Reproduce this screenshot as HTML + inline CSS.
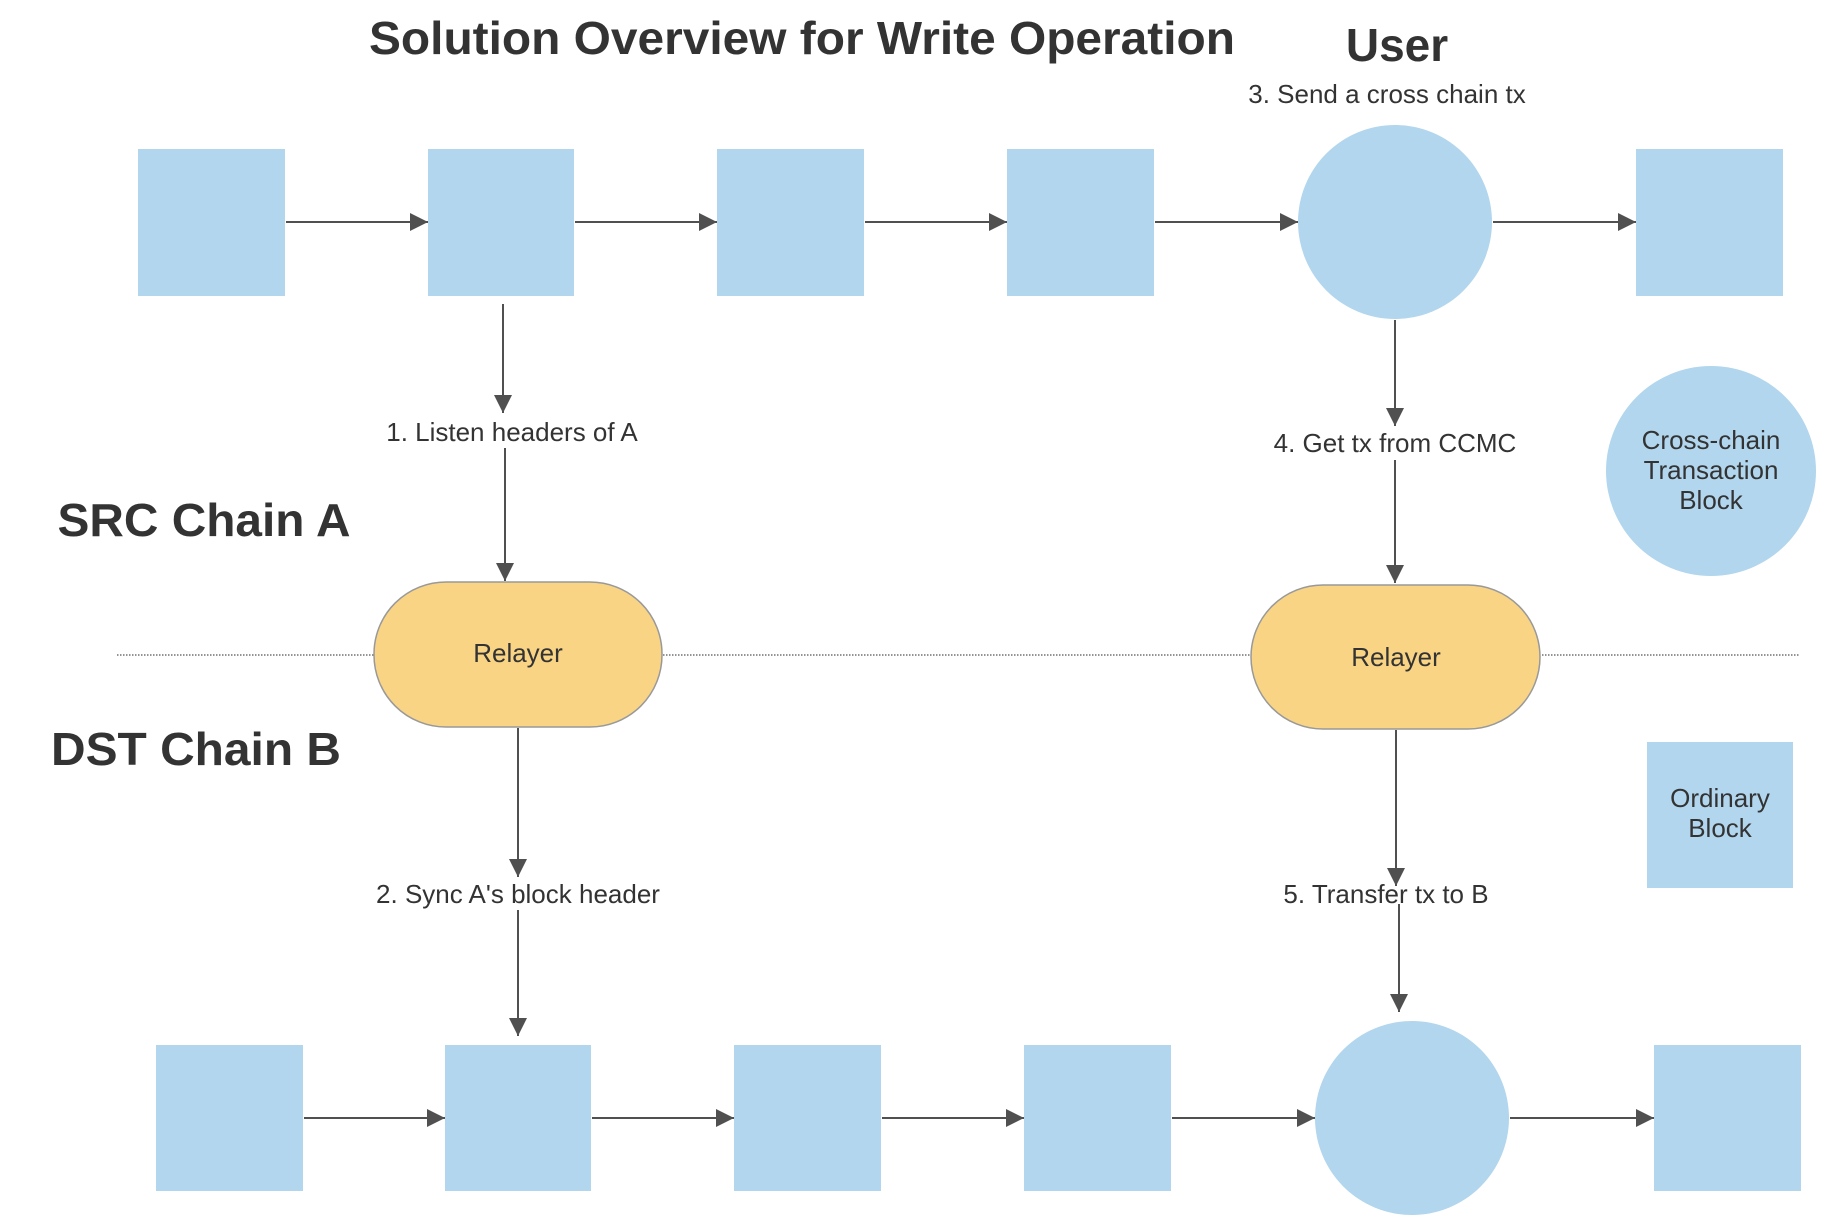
<!DOCTYPE html>
<html><head><meta charset="utf-8"><style>html,body{margin:0;padding:0;background:#fff}svg{display:block}</style></head>
<body>
<svg width="1845" height="1230" viewBox="0 0 1845 1230" xmlns="http://www.w3.org/2000/svg" font-family="Liberation Sans, Arial, sans-serif">
<g fill="#b2d6ee">
<rect x="138" y="149" width="147" height="147"/>
<rect x="428" y="149" width="146" height="147"/>
<rect x="717" y="149" width="147" height="147"/>
<rect x="1007" y="149" width="147" height="147"/>
<circle cx="1395" cy="222" r="97"/>
<rect x="1636" y="149" width="147" height="147"/>
<rect x="156" y="1045" width="147" height="146"/>
<rect x="445" y="1045" width="146" height="146"/>
<rect x="734" y="1045" width="147" height="146"/>
<rect x="1024" y="1045" width="147" height="146"/>
<circle cx="1412" cy="1118" r="97"/>
<rect x="1654" y="1045" width="147" height="146"/>
<circle cx="1711" cy="471" r="105"/>
<rect x="1647" y="742" width="146" height="146"/>
</g>
<line x1="117" y1="655" x2="1800" y2="655" stroke="#555" stroke-width="1.3" stroke-dasharray="1.5,1.5"/>
<g fill="#f9d485" stroke="#999" stroke-width="1.5">
<rect x="374" y="582" width="288" height="145" rx="72" ry="72"/>
<rect x="1251" y="585" width="289" height="144" rx="72" ry="72"/>
</g>
<g stroke="#505050" stroke-width="2">
<line x1="286" y1="222" x2="428" y2="222"/>
<line x1="575" y1="222" x2="717" y2="222"/>
<line x1="865" y1="222" x2="1007" y2="222"/>
<line x1="1155" y1="222" x2="1298" y2="222"/>
<line x1="1493" y1="222" x2="1636" y2="222"/>
<line x1="304" y1="1118" x2="445" y2="1118"/>
<line x1="592" y1="1118" x2="734" y2="1118"/>
<line x1="882" y1="1118" x2="1024" y2="1118"/>
<line x1="1172" y1="1118" x2="1315" y2="1118"/>
<line x1="1510" y1="1118" x2="1654" y2="1118"/>
<line x1="503" y1="304" x2="503" y2="413"/>
<line x1="505" y1="448" x2="505" y2="581"/>
<line x1="518" y1="728" x2="518" y2="877"/>
<line x1="518" y1="910" x2="518" y2="1036"/>
<line x1="1395" y1="320" x2="1395" y2="426"/>
<line x1="1395" y1="460" x2="1395" y2="583"/>
<line x1="1396" y1="730" x2="1396" y2="886"/>
<line x1="1399" y1="904" x2="1399" y2="1012"/>
</g>
<g fill="#505050">
<path d="M428,222 l-18,-9 v18z"/><path d="M717,222 l-18,-9 v18z"/><path d="M1007,222 l-18,-9 v18z"/><path d="M1298,222 l-18,-9 v18z"/><path d="M1636,222 l-18,-9 v18z"/>
<path d="M445,1118 l-18,-9 v18z"/><path d="M734,1118 l-18,-9 v18z"/><path d="M1024,1118 l-18,-9 v18z"/><path d="M1315,1118 l-18,-9 v18z"/><path d="M1654,1118 l-18,-9 v18z"/>
<path d="M503,413 l-9,-18 h18z"/><path d="M505,581 l-9,-18 h18z"/>
<path d="M518,877 l-9,-18 h18z"/><path d="M518,1036 l-9,-18 h18z"/>
<path d="M1395,426 l-9,-18 h18z"/><path d="M1395,583 l-9,-18 h18z"/>
<path d="M1396,886 l-9,-18 h18z"/><path d="M1399,1012 l-9,-18 h18z"/>
</g>
<g fill="#333" text-anchor="middle">
<text x="802" y="54" font-size="46" font-weight="bold" textLength="866" lengthAdjust="spacingAndGlyphs">Solution Overview for Write Operation</text>
<text x="1397" y="61" font-size="46" font-weight="bold">User</text>
<text x="204" y="536" font-size="46" font-weight="bold" textLength="293" lengthAdjust="spacingAndGlyphs">SRC Chain A</text>
<text x="196" y="765" font-size="46" font-weight="bold" textLength="290" lengthAdjust="spacingAndGlyphs">DST Chain B</text>
<g font-size="26">
<text x="1387" y="103">3. Send a cross chain tx</text>
<text x="512" y="441">1. Listen headers of A</text>
<text x="1395" y="452">4. Get tx from CCMC</text>
<text x="518" y="903">2. Sync A's block header</text>
<text x="1386" y="903">5. Transfer tx to B</text>
<text x="518" y="662">Relayer</text>
<text x="1396" y="666">Relayer</text>
<text x="1711" y="449">Cross-chain</text>
<text x="1711" y="479">Transaction</text>
<text x="1711" y="509">Block</text>
<text x="1720" y="807">Ordinary</text>
<text x="1720" y="837">Block</text>
</g>
</g>
</svg>
</body></html>
